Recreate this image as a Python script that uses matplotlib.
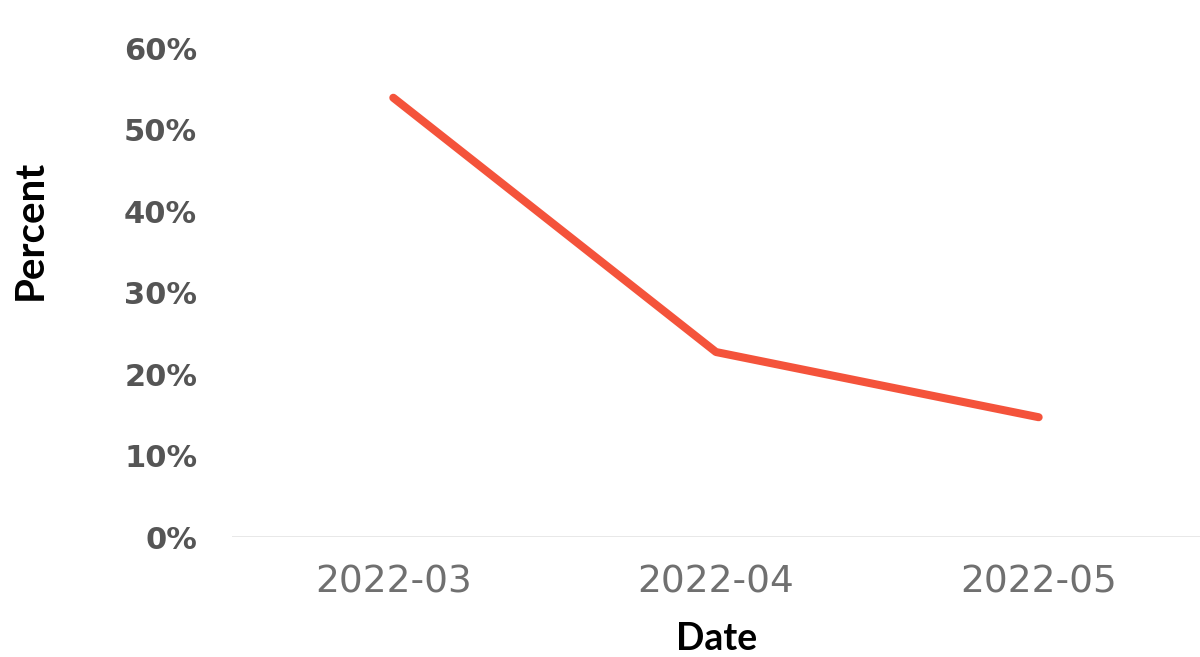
import matplotlib.pyplot as plt
from matplotlib.ticker import FuncFormatter

# Monthly share, in percent
months = ['2022-03', '2022-04', '2022-05']
percent = [53.9, 22.7, 14.7]

fig = plt.figure(figsize=(12, 6.57), dpi=100)
ax = fig.add_axes([0.1933, 0.1826, 0.8067, 0.7443])

x = range(len(months))
ax.plot(x, percent, color='#f4533b', linewidth=5.8, solid_capstyle='round',
        solid_joinstyle='round', zorder=3)

ax.set_xlim(-0.5, 2.5)
ax.set_ylim(0, 60)
ax.set_yticks(range(0, 61, 10))
ax.yaxis.set_major_formatter(FuncFormatter(lambda v, p: f'{v:.0f}%'))
ax.set_xticks(list(x))
ax.set_xticklabels(months)

for s in ax.spines.values():
    s.set_visible(False)
ax.axhline(0, color='#e6e6e6', linewidth=2, zorder=1)
ax.tick_params(length=0)
ax.tick_params(axis='y', pad=25)
ax.tick_params(axis='x', pad=20)

for lab in ax.get_yticklabels():
    lab.set_family('DejaVu Sans')
    lab.set_fontsize(22)
    lab.set_fontweight('bold')
    lab.set_color('#555555')
for lab in ax.get_xticklabels():
    lab.set_family('DejaVu Sans')
    lab.set_fontsize(27)
    lab.set_color('#707070')

fig.text(0.025, 0.65, 'Percent', rotation=90, ha='center', va='center',
         fontsize=29, fontweight='bold', family='Lato')
fig.text(0.5975, 0.028, 'Date', ha='center', va='center',
         fontsize=27, fontweight='bold', family='Lato')

fig.savefig('out.png', dpi=100, facecolor='white')
